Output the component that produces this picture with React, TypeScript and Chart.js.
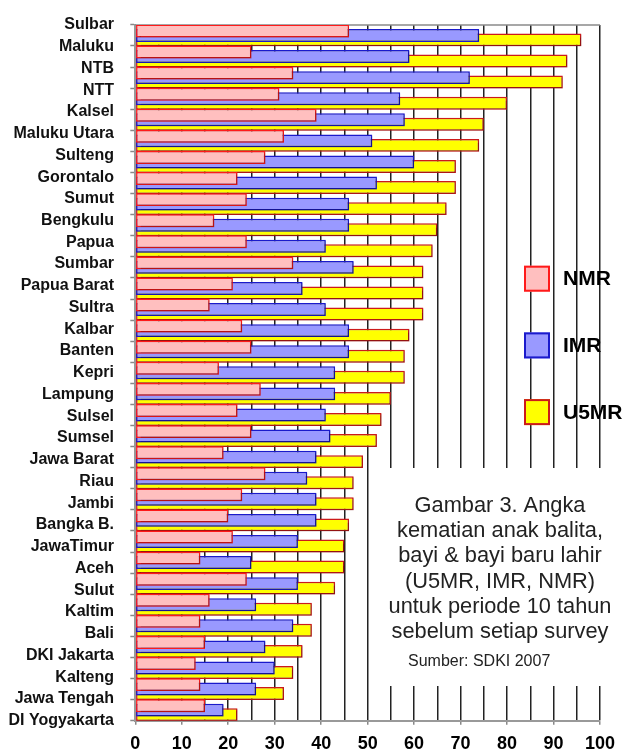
import React, { useEffect, useRef } from 'react';
import { Chart, registerables } from 'chart.js';

Chart.register(...registerables);

const provinces = ['Sulbar', 'Maluku', 'NTB', 'NTT', 'Kalsel', 'Maluku Utara', 'Sulteng', 'Gorontalo', 'Sumut', 'Bengkulu', 'Papua', 'Sumbar', 'Papua Barat', 'Sultra', 'Kalbar', 'Banten', 'Kepri', 'Lampung', 'Sulsel', 'Sumsel', 'Jawa Barat', 'Riau', 'Jambi', 'Bangka B.', 'JawaTimur', 'Aceh', 'Sulut', 'Kaltim', 'Bali', 'DKI Jakarta', 'Kalteng', 'Jawa Tengah', 'DI Yogyakarta'];
const nmr = [46, 25, 34, 31, 39, 32, 28, 22, 24, 17, 24, 34, 21, 16, 23, 25, 18, 27, 22, 25, 19, 28, 23, 20, 21, 14, 24, 16, 14, 15, 13, 14, 15];
const imr = [74, 59, 72, 57, 58, 51, 60, 52, 46, 46, 41, 47, 36, 41, 46, 46, 43, 43, 41, 42, 39, 37, 39, 39, 35, 25, 35, 26, 34, 28, 30, 26, 19];
const u5mr = [96, 93, 92, 80, 75, 74, 69, 69, 67, 65, 64, 62, 62, 62, 59, 58, 58, 55, 53, 52, 49, 47, 47, 46, 45, 45, 43, 38, 38, 36, 34, 32, 22];
const seriesNames = ['NMR', 'IMR', 'U5MR'];
const xTickLabels = [0, 10, 20, 30, 40, 50, 60, 70, 80, 90, 100];
const captionLines = ['Gambar 3. Angka', 'kematian anak balita,', 'bayi & bayi baru lahir', '(U5MR, IMR, NMR)', 'untuk periode 10 tahun', 'sebelum setiap survey'];
const sourceText = 'Sumber: SDKI 2007';

const FONT = '"Liberation Sans", Arial, Helvetica, sans-serif';

const overlayPlugin = {
  id: 'overlay',
  beforeDatasetsDraw(chart: any) {
    const { ctx, chartArea } = chart;
    ctx.save();
    ctx.strokeStyle = '#8a8a8a';
    ctx.lineWidth = 1.5;
    ctx.beginPath();
    ctx.moveTo(chartArea.left, chartArea.top);
    ctx.lineTo(chartArea.right, chartArea.top);
    ctx.stroke();
    ctx.restore();
    ctx.save();
    ctx.shadowColor = 'rgba(0,0,0,0.28)';
    ctx.shadowOffsetX = 1;
    ctx.shadowOffsetY = 1;
    ctx.shadowBlur = 1;
  },
  afterDatasetsDraw(chart: any) {
    chart.ctx.restore();
  },
  afterDraw(chart: any) {
    const { ctx } = chart;
    ctx.save();
    // caption box
    ctx.fillStyle = '#ffffff';
    ctx.fillRect(373, 468, 624 - 373, 686 - 468);
    ctx.fillStyle = '#222222';
    ctx.font = `21.8px ${FONT}`;
    ctx.textAlign = 'center';
    ctx.textBaseline = 'alphabetic';
    captionLines.forEach((line, i) => {
      ctx.fillText(line, 500, 511.7 + i * 25.3);
    });
    ctx.font = `16px ${FONT}`;
    ctx.textAlign = 'left';
    ctx.fillText(sourceText, 408, 666);
    // legend
    chart.data.datasets.forEach((ds: any, i: number) => {
      const y = 265.7 + i * 66.7;
      ctx.fillStyle = ds.backgroundColor;
      ctx.fillRect(524, y, 26, 26);
      ctx.strokeStyle = ds.borderColor;
      ctx.lineWidth = 2;
      ctx.strokeRect(525, y + 1, 24, 24);
      ctx.fillStyle = '#000000';
      ctx.font = `bold 21px ${FONT}`;
      ctx.textAlign = 'left';
      ctx.textBaseline = 'middle';
      ctx.fillText(ds.label, 563, y + 14);
    });
    ctx.restore();
  },
};

export default function App() {
  const ref = useRef<HTMLCanvasElement>(null);
  useEffect(() => {
    if (!ref.current) return;
    const colors = [
      { bg: '#ffbfbf', border: '#ff1a1a' },
      { bg: '#9999ff', border: '#1a1acc' },
      { bg: '#ffff00', border: '#cc1a1a' },
    ];
    const values = [nmr, imr, u5mr];
    const chart = new Chart(ref.current, {
      type: 'bar',
      data: {
        labels: provinces,
        datasets: values.map((v, i) => ({
          label: seriesNames[i],
          data: v,
          backgroundColor: colors[i].bg,
          borderColor: colors[i].border,
          borderWidth: 1.5,
          borderSkipped: false,
          xAxisID: 'x',
          yAxisID: 'y',
          categoryPercentage: 0.636,
          barPercentage: 2.89,
        })),
      },
      options: {
        indexAxis: 'y',
        responsive: false,
        animation: false,
        events: [],
        layout: { padding: { top: 20, right: 18.3, left: 0, bottom: 0 } },
        plugins: { legend: { display: false }, tooltip: { enabled: false } },
        scales: {
          x: {
            type: 'linear',
            position: 'bottom',
            min: 0,
            max: 100,
            ticks: {
              stepSize: 5,
              autoSkip: false,
              maxRotation: 0,
              padding: 9,
              color: '#000',
              font: { family: FONT, size: 18, weight: 'bold' },
              callback: (v: any) => (xTickLabels.includes(Number(v)) ? String(v) : ''),
            },
            grid: {
              color: (c: any) => (c.tick && c.tick.value === 0 ? 'rgba(0,0,0,0)' : '#222'),
              lineWidth: 1.5,
              tickLength: 4,
              tickWidth: 1.5,
              tickColor: (c: any) => (c.tick && c.tick.value % 10 === 0 ? '#888' : 'rgba(0,0,0,0)'),
            },
            border: { color: '#999', width: 2 },
            afterFit: (s: any) => { s.height = 35.3; },
          },
          y: {
            type: 'category',
            position: 'left',
            offset: true,
            weight: 0,
            ticks: { display: false },
            grid: { offset: true, drawOnChartArea: false, drawTicks: true, tickLength: 5, tickColor: '#888', tickWidth: 1.5 },
            border: { color: '#999', width: 2 },
            afterFit: (s: any) => { s.width = 6; },
          },
          yLabels: {
            type: 'category',
            axis: 'y',
            position: 'left',
            offset: false,
            weight: 1,
            labels: provinces,
            ticks: { padding: 15.3, color: '#111', autoSkip: false, font: { family: FONT, size: 16, weight: 'bold' } },
            grid: { display: false, drawTicks: false, tickLength: 0 },
            border: { display: false },
            afterFit: (s: any) => { s.width = 129.3; },
          },
        },
      } as any,
      plugins: [overlayPlugin],
    });
    return () => chart.destroy();
  }, []);
  return (
    <canvas
      ref={ref}
      width={624}
      height={756}
      style={{ position: 'absolute', left: 0, top: 0, display: 'block' }}
    />
  );
}
